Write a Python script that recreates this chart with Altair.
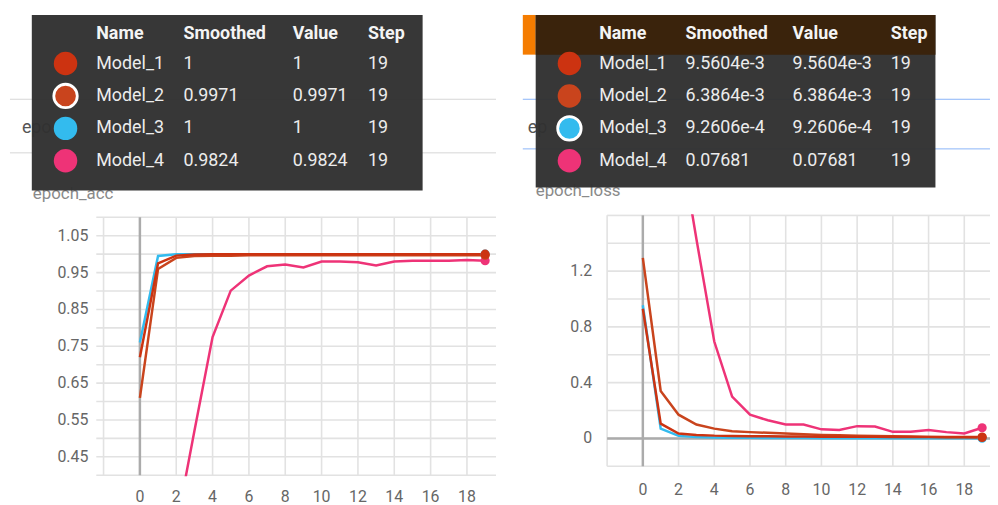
import altair as alt
import pandas as pd

# ---------------- data ----------------
models = ["Model_1", "Model_2", "Model_3", "Model_4"]
steps = list(range(20))

acc_model_1 = [0.72, 0.975, 0.996, 0.999, 1.0, 1.0, 1.0, 1.0, 1.0, 1.0,
               1.0, 1.0, 1.0, 1.0, 1.0, 1.0, 1.0, 1.0, 1.0, 1.0]
acc_model_2 = [0.61, 0.96, 0.99, 0.995, 0.996, 0.996, 0.997, 0.997, 0.997, 0.997,
               0.997, 0.997, 0.997, 0.997, 0.997, 0.997, 0.997, 0.997, 0.997, 0.9971]
acc_model_3 = [0.76, 0.995, 1.0, 1.0, 1.0, 1.0, 1.0, 1.0, 1.0, 1.0,
               1.0, 1.0, 1.0, 1.0, 1.0, 1.0, 1.0, 1.0, 1.0, 1.0]
acc_model_4 = [0.10, 0.16, 0.26, 0.52, 0.775, 0.901, 0.942, 0.967, 0.972, 0.964,
               0.98, 0.98, 0.978, 0.969, 0.98, 0.982, 0.982, 0.982, 0.984, 0.9824]

loss_model_1 = [0.93, 0.106, 0.035, 0.025, 0.02, 0.018, 0.016, 0.015, 0.014, 0.013,
                0.012, 0.012, 0.011, 0.011, 0.0105, 0.010, 0.010, 0.0098, 0.0097, 0.0095604]
loss_model_2 = [1.295, 0.34, 0.17, 0.10, 0.07, 0.052, 0.045, 0.04, 0.035, 0.03,
                0.025, 0.022, 0.02, 0.018, 0.015, 0.013, 0.011, 0.009, 0.008, 0.0063864]
loss_model_3 = [0.955, 0.07, 0.018, 0.01, 0.007, 0.005, 0.004, 0.003, 0.0025, 0.002,
                0.0018, 0.0016, 0.0015, 0.0014, 0.0013, 0.0012, 0.0011, 0.001, 0.00095, 0.00092606]
loss_model_4 = [4.0, 3.0, 2.2, 1.43, 0.695, 0.30, 0.17, 0.13, 0.10, 0.10,
                0.065, 0.06, 0.088, 0.085, 0.047, 0.047, 0.06, 0.045, 0.035, 0.07681]

acc_series = [acc_model_1, acc_model_2, acc_model_3, acc_model_4]
loss_series = [loss_model_1, loss_model_2, loss_model_3, loss_model_4]

headers = ["Name", "Smoothed", "Value", "Step"]
acc_smoothed = ["1", "0.9971", "1", "0.9824"]
acc_value = ["1", "0.9971", "1", "0.9824"]
loss_smoothed = ["9.5604e-3", "6.3864e-3", "9.2606e-4", "0.07681"]
loss_value = ["9.5604e-3", "6.3864e-3", "9.2606e-4", "0.07681"]
last_step = ["19", "19", "19", "19"]

x_ticks = [0, 2, 4, 6, 8, 10, 12, 14, 16, 18]
x_grid = [-2, 0, 2, 4, 6, 8, 10, 12, 14, 16, 18]
acc_y_ticks = [0.45, 0.55, 0.65, 0.75, 0.85, 0.95, 1.05]
acc_y_grid = [0.4, 0.45, 0.5, 0.55, 0.6, 0.65, 0.7, 0.75, 0.8, 0.85, 0.9, 0.95, 1.0, 1.05, 1.1]
loss_y_ticks = [0, 0.4, 0.8, 1.2]
loss_y_grid = [-0.2, 0.0, 0.2, 0.4, 0.6, 0.8, 1.0, 1.2, 1.4, 1.6]

# ---------------- style ----------------
FONT = "Roboto"
model_colors = ["#cc3311", "#c9441d", "#33bbee", "#ee3377"]
draw_order = [2, 3, 1, 0]
GRID = "#e2e2e2"
ZERO = "#ababab"
LABEL = "#666666"
OFF = 8
W, H = 990, 497


def px(v):
    return v - OFF


def one():
    return pd.DataFrame({"k": [0]})


def rect(x1, y1, x2, y2, color, opacity=1.0):
    return alt.Chart(one()).mark_rect(color=color, opacity=opacity).encode(
        x=alt.value(px(x1)), x2=alt.value(px(x2)),
        y=alt.value(px(y1)), y2=alt.value(px(y2)))


def hline(x1, x2, y, color, width=1.0):
    return alt.Chart(one()).mark_rule(color=color, strokeWidth=width).encode(
        x=alt.value(px(x1)), x2=alt.value(px(x2)), y=alt.value(px(y)))


def label(x, y, text, size, color, weight="normal"):
    return alt.Chart(one()).mark_text(
        text=text, font=FONT, fontSize=size, color=color, fontWeight=weight,
        align="left", baseline="middle").encode(x=alt.value(px(x)), y=alt.value(px(y)))


color_scale = alt.Scale(domain=models, range=model_colors)


def scales(xdom, ydom, xpix, ypix):
    xs = alt.Scale(domain=xdom, range=[px(xpix[0]), px(xpix[1])], nice=False, zero=False)
    ys = alt.Scale(domain=ydom, range=[px(ypix[1]), px(ypix[0])], nice=False, zero=False)
    return xs, ys


def panel(series, xs, ys, xdom, ydom, hgrid, zero_h):
    layers = []
    hg = pd.DataFrame({"y": hgrid, "x": xdom[0], "x2": xdom[1]})
    layers.append(alt.Chart(hg).mark_rule(color=GRID, strokeWidth=1.6).encode(
        x=alt.X("x:Q", scale=xs, axis=None), x2="x2:Q",
        y=alt.Y("y:Q", scale=ys, axis=None)))
    vg = pd.DataFrame({"x": x_grid, "y": ydom[0], "y2": ydom[1]})
    layers.append(alt.Chart(vg).mark_rule(color=GRID, strokeWidth=1.6).encode(
        x=alt.X("x:Q", scale=xs, axis=None),
        y=alt.Y("y:Q", scale=ys, axis=None), y2="y2:Q"))
    zv = pd.DataFrame({"x": [0], "y": [ydom[0]], "y2": [ydom[1]]})
    layers.append(alt.Chart(zv).mark_rule(color=ZERO, strokeWidth=2.5).encode(
        x=alt.X("x:Q", scale=xs, axis=None),
        y=alt.Y("y:Q", scale=ys, axis=None), y2="y2:Q"))
    if zero_h:
        zh = pd.DataFrame({"y": [0], "x": [xdom[0]], "x2": [xdom[1]]})
        layers.append(alt.Chart(zh).mark_rule(color=ZERO, strokeWidth=2.5).encode(
            x=alt.X("x:Q", scale=xs, axis=None), x2="x2:Q",
            y=alt.Y("y:Q", scale=ys, axis=None)))
    for i in draw_order:
        df = pd.DataFrame({"step": steps, "v": series[i]})
        layers.append(alt.Chart(df).mark_line(color=model_colors[i], strokeWidth=2.5)
                      .encode(x=alt.X("step:Q", scale=xs, axis=None),
                              y=alt.Y("v:Q", scale=ys, axis=None)))
    for i in draw_order:
        df = pd.DataFrame({"step": steps, "v": series[i]})
        layers.append(alt.Chart(df).transform_filter(alt.datum.step == steps[-1])
                      .mark_circle(color=model_colors[i], size=85, opacity=1)
                      .encode(x=alt.X("step:Q", scale=xs, axis=None),
                              y=alt.Y("v:Q", scale=ys, axis=None)))
    return alt.layer(*layers)


def tick_labels(xs, ys, yticks, yfmt, xlab_y, ylab_x):
    xt = pd.DataFrame({"t": x_ticks})
    yt = pd.DataFrame({"t": yticks})
    xl = alt.Chart(xt).mark_text(font=FONT, fontSize=16, color=LABEL, align="center",
                                 baseline="middle").encode(
        x=alt.X("t:Q", scale=xs, axis=None), y=alt.value(px(xlab_y)),
        text=alt.Text("t:Q", format="d"))
    yl = alt.Chart(yt).mark_text(font=FONT, fontSize=16, color=LABEL, align="right",
                                 baseline="middle").encode(
        y=alt.Y("t:Q", scale=ys, axis=None), x=alt.value(px(ylab_x)),
        text=alt.Text("t:Q", format=yfmt))
    return alt.layer(xl, yl)


def table(box, band, circle_x, col_x, smoothed, value, highlight):
    layers = [rect(*box, "#313131", 0.97)]
    if band is not None:
        layers.append(rect(*band[:4], band[4]))
    rows = pd.DataFrame({"row": [1, 2, 3, 4], "name": models, "smoothed": smoothed,
                         "value": value, "step": last_step})
    rs = alt.Scale(domain=[1, 4], range=[px(62), px(160)], nice=False, zero=False)
    Y = alt.Y("row:Q", scale=rs, axis=None)
    layers.append(alt.Chart(rows).mark_circle(size=560, opacity=1).encode(
        x=alt.value(px(circle_x)), y=Y,
        color=alt.Color("name:N", scale=color_scale, legend=None)))
    layers.append(alt.Chart(rows).transform_filter(alt.datum.name == highlight)
                  .mark_circle(size=560, opacity=1, stroke="white", strokeWidth=2.8)
                  .encode(x=alt.value(px(circle_x)), y=Y,
                          color=alt.Color("name:N", scale=color_scale, legend=None)))
    for j, h in enumerate(headers):
        layers.append(label(col_x[j], 32, h, 18, "#f4f4f4", "bold"))
    for j, f in enumerate(["name", "smoothed", "value", "step"]):
        layers.append(alt.Chart(rows).mark_text(
            align="left", baseline="middle", font=FONT, fontSize=18, color="#ececec")
            .encode(x=alt.value(px(col_x[j])), y=Y, text=f"{f}:N"))
    return alt.layer(*layers)


acc_xdom, acc_ydom = [-2.4, 19.6], [0.4, 1.1]
loss_xdom, loss_ydom = [-2.0, 19.44], [-0.2, 1.6]
axs, ays = scales(acc_xdom, acc_ydom, (97, 500), (217, 477))
lxs, lys = scales(loss_xdom, loss_ydom, (612, 998), (215, 468))

left_panel = panel(acc_series, axs, ays, acc_xdom, acc_ydom, acc_y_grid, False)
right_panel = panel(loss_series, lxs, lys, loss_xdom, loss_ydom, loss_y_grid, True)

masks = [rect(97, 478, 502, 560, "white"), rect(612, -20, 1000, 214, "white")]

left_ticks = tick_labels(axs, ays, acc_y_ticks, ".2f", 499, 89)
right_ticks = tick_labels(lxs, lys, loss_y_ticks, ".1~f", 492, 597)

backdrop = [
    hline(10, 500, 98, "#d6d6d6"), hline(10, 500, 152, "#d6d6d6"),
    label(22, 127, "epo", 18, "#555555"),
    rect(527, 13, 540, 53, "#f57c00"),
    hline(527, 998, 98, "#8ab4f8"), hline(527, 998, 148, "#8ab4f8"),
    label(532, 127, "ep", 18, "#555555"),
    label(33, 194, "epoch_acc", 17, "#8a8a8a"),
    label(540, 191, "epoch_loss", 17, "#8a8a8a"),
]

left_table = table((32, 13, 426, 190), None, 66, [97, 185, 295, 371],
                   acc_smoothed, acc_value, "Model_2")
right_table = table((540, 13, 943, 187), (540, 13, 943, 53, "#3a230c"), 574,
                    [604, 691, 799, 898], loss_smoothed, loss_value, "Model_3")

chart = (
    alt.layer(left_panel, right_panel, *masks, left_ticks, right_ticks, *backdrop,
              left_table, right_table)
    .resolve_scale(x="independent", y="independent")
    .properties(width=W, height=H, autosize=alt.AutoSizeParams(type="none"), padding=0)
    .configure_view(strokeOpacity=0)
)

chart.save("out.html", embed_options={"renderer": "svg", "actions": False})
